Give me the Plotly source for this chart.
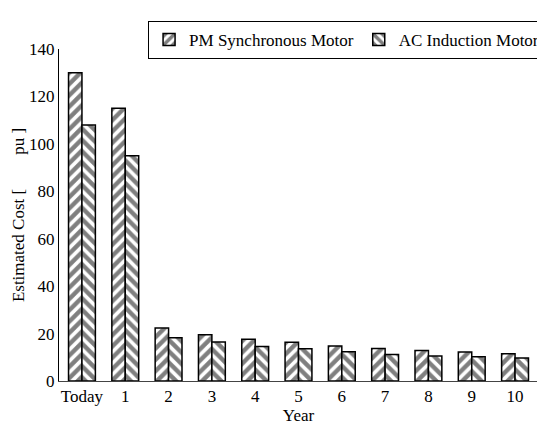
import plotly.graph_objects as go

categories = ["Today", "1", "2", "3", "4", "5", "6", "7", "8", "9", "10"]
pm_sync = [130, 115, 22.3, 19.5, 17.6, 16.3, 14.8, 13.7, 12.9, 12.2, 11.5]
ac_induct = [108, 95, 18.2, 16.4, 14.6, 13.6, 12.3, 11.2, 10.5, 10.2, 9.7]
series_names = ["PM Synchronous Motor", "AC Induction Motor"]
y_ticks = [0, 20, 40, 60, 80, 100, 120, 140]

FONT = "Liberation Serif, Times New Roman, serif"

fig = go.Figure()
for name, vals, shape in [(series_names[0], pm_sync, "/"), (series_names[1], ac_induct, "\\")]:
    fig.add_trace(go.Bar(
        x=categories, y=vals, name=name,
        marker=dict(
            color="white",
            line=dict(color="black", width=1.5),
            pattern=dict(shape=shape, fgcolor="black", bgcolor="white",
                         size=8, solidity=0.55, fillmode="overlay"),
        ),
    ))

# the page body adds an 8px offset; margins compensate for it
fig.update_layout(
    width=545, height=432,
    margin=dict(l=51, r=15, t=41, b=59, autoexpand=False),
    paper_bgcolor="white", plot_bgcolor="white",
    barmode="group", bargap=0.38, bargroupgap=0,
    font=dict(family=FONT, size=17, color="black"),
    showlegend=True,
    legend=dict(
        orientation="h", xref="container", yref="container",
        x=0.257, y=0.970, xanchor="left", yanchor="top",
        bordercolor="black", borderwidth=1, bgcolor="white",
        font=dict(family=FONT, size=17, color="black"),
        itemwidth=30,
    ),
    xaxis=dict(
        type="category", range=[-0.53, 10.53],
        showline=True, linecolor="#444", linewidth=1,
        ticks="", showgrid=False, zeroline=False,
        title=dict(text="Year", standoff=2, font=dict(size=17)),
        tickfont=dict(size=17),
    ),
    yaxis=dict(
        range=[0, 140], tickvals=y_ticks,
        showline=True, linecolor="black", linewidth=1.2,
        ticks="", showgrid=False, zeroline=False,
        ticklabelstandoff=0,
        title=dict(text="Estimated Cost [\u00a0\u00a0\u00a0\u00a0\u00a0\u00a0\u00a0\u00a0pu ]", standoff=0, font=dict(size=17)),
        tickfont=dict(size=17),
    ),
)

fig.write_html("out.html")
